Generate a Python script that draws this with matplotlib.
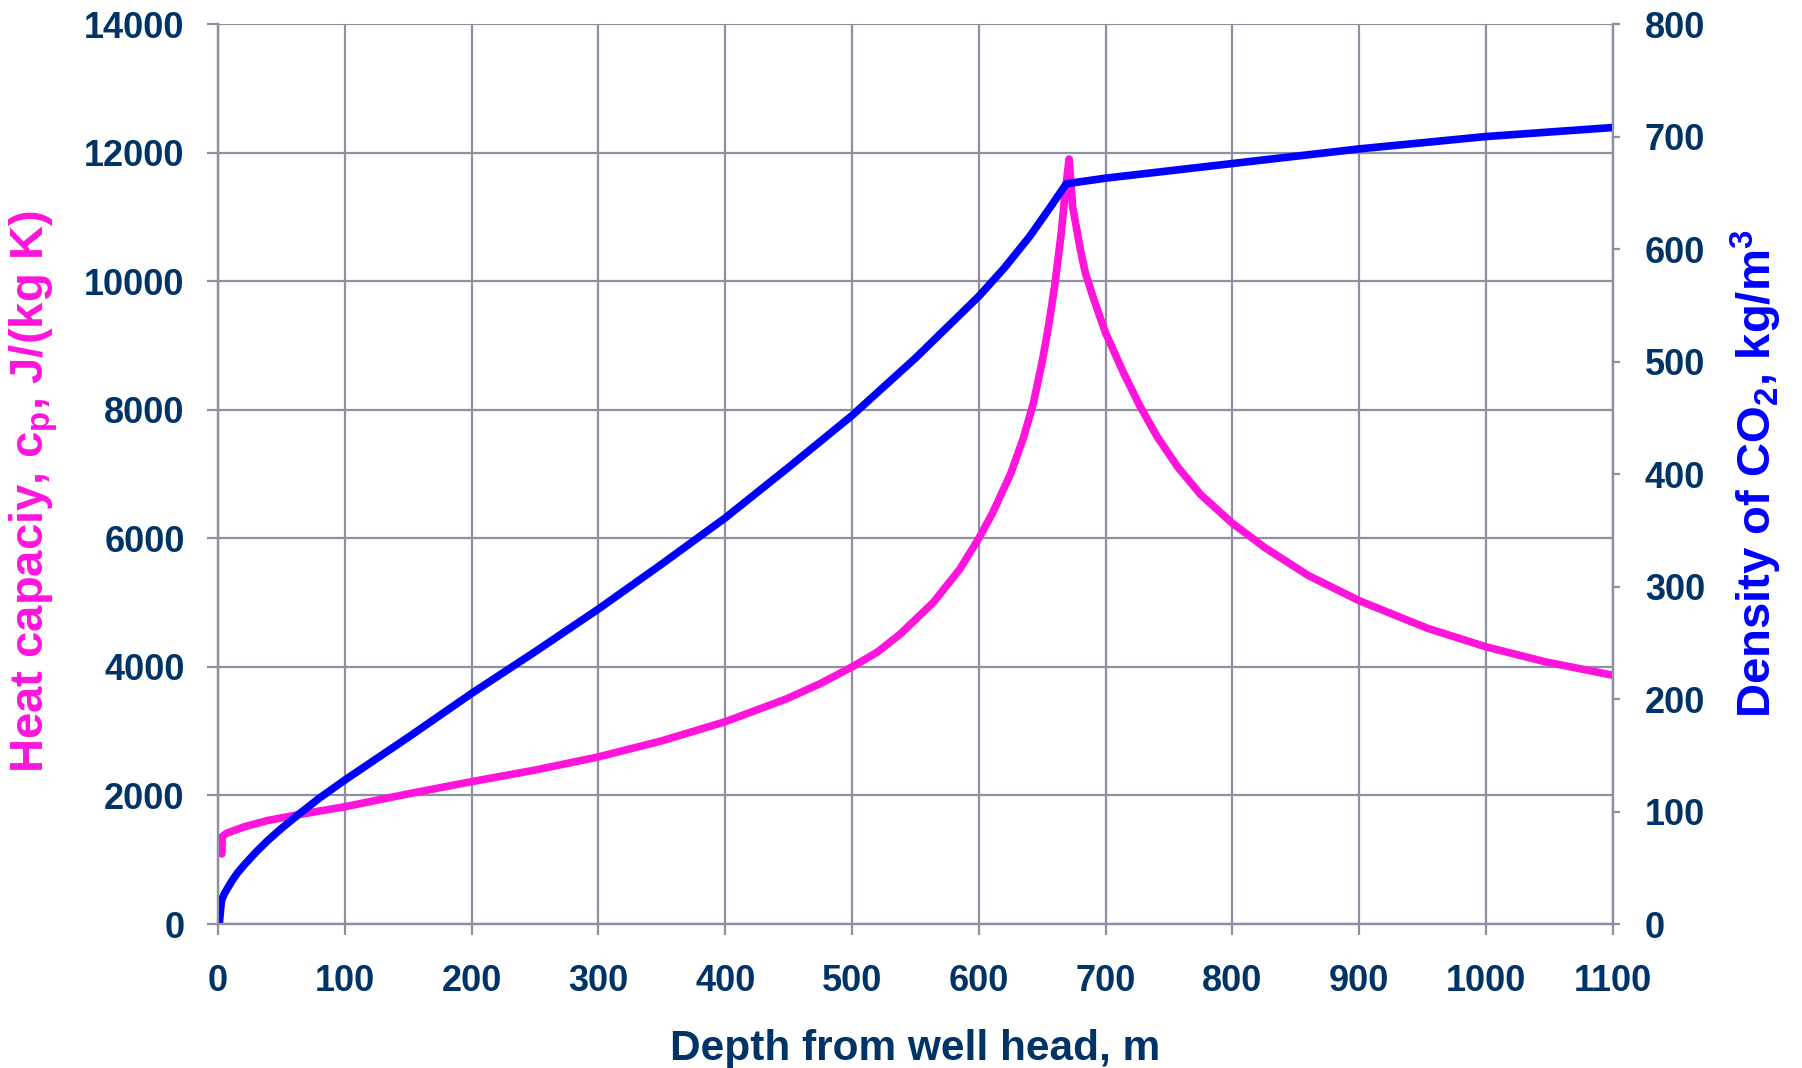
import matplotlib
matplotlib.use("Agg")
import matplotlib.pyplot as plt

plt.rcParams['font.family'] = ['Liberation Sans', 'DejaVu Sans']
plt.rcParams['font.weight'] = 'bold'
plt.rcParams['mathtext.default'] = 'regular'

NAVY = "#003366"
MAGENTA = "#ff14dc"
BLUE = "#0000ff"
GRID = "#8c90a0"

# heat capacity cp, J/(kg K) vs depth, m
cp_depth = [3, 3.3, 7, 21, 39, 63, 100, 150, 200, 250, 300, 350, 400, 448, 475, 500,
            520, 538, 564, 585, 600, 611, 625, 635, 643, 650, 655, 660, 665, 668, 671.2,
            674, 680, 684, 690, 694, 700, 714, 727, 741, 757, 775, 800, 826, 860,
            900, 954, 1000, 1047, 1100]
cp_vals = [1090, 1360, 1415, 1514, 1610, 1700, 1825, 2025, 2215, 2395, 2600, 2850, 3147, 3500, 3740, 4000,
           4230, 4510, 5000, 5520, 6000, 6400, 7000, 7550, 8100, 8750, 9300, 9950, 10750, 11350, 11900,
           11160, 10500, 10130, 9760, 9530, 9195, 8580, 8060, 7570, 7106, 6680, 6234, 5850, 5420,
           5030, 4600, 4312, 4078, 3870]

# density of CO2, kg/m3 vs depth, m
rho_depth = [1, 2.7, 5, 10.5, 15, 21, 30, 39, 50, 63, 80, 100, 125, 150, 200, 250, 300, 350, 400, 450,
             500, 550, 600, 620, 640, 655, 669, 700, 800, 900, 1000, 1100]
rho_vals = [0.5, 21, 27, 37.5, 45, 53, 64, 74, 85, 97, 112, 128, 147, 166, 205, 242, 280, 320, 361, 406,
            452, 503, 558, 583, 611, 635, 658, 663, 676, 689, 700, 708]

x_ticks = list(range(0, 1101, 100))
cp_ticks = list(range(0, 14001, 2000))
rho_ticks = list(range(0, 801, 100))

fig = plt.figure(figsize=(18.02, 10.68), dpi=100)
ax = fig.add_axes([0.121, 0.1348, 0.774, 0.8427])
ax2 = ax.twinx()

ax.plot(cp_depth, cp_vals, color=MAGENTA, lw=5.5, solid_capstyle='round', solid_joinstyle='round')
ax2.plot(rho_depth, rho_vals, color=BLUE, lw=5.5, solid_capstyle='round', solid_joinstyle='round')

ax.set_xlim(0, 1100)
ax.set_ylim(0, 14000)
ax2.set_ylim(0, 800)
ax.set_xticks(x_ticks)
ax.set_yticks(cp_ticks)
ax2.set_yticks(rho_ticks)

ax.grid(True, color=GRID, lw=1.6)
ax.set_axisbelow(True)
for a in (ax, ax2):
    for s in a.spines.values():
        s.set_color(GRID)
        s.set_linewidth(1.6)
    a.spines['top'].set_visible(False)

ax.tick_params(axis='x', direction='out', length=8, width=1.6, color=GRID,
               labelsize=26, labelcolor=NAVY, pad=21)
ax.tick_params(axis='y', direction='out', length=8, width=1.6, color=GRID,
               labelsize=26, labelcolor=NAVY, pad=16)
ax2.tick_params(axis='y', direction='out', length=5, width=1.6, color=GRID,
                labelsize=26, labelcolor=NAVY, pad=18)
for lab in ax.get_xticklabels() + ax.get_yticklabels() + ax2.get_yticklabels():
    lab.set_fontweight('bold')

fig.text(0.508, 0.0175, "Depth from well head, m", ha='center', va='center',
         fontsize=30.5, fontweight='bold', color=NAVY)
fig.text(0.019, 0.540, "Heat capaciy, c$_p$, J/(kg K)", ha='center', va='center',
         rotation=90, fontsize=34, fontweight='bold', color=MAGENTA)
fig.text(0.9745, 0.556, "Density of CO$_2$, kg/m$^3$", ha='center', va='center',
         rotation=90, fontsize=34, fontweight='bold', color=BLUE)

fig.savefig("out.png", dpi=100)
